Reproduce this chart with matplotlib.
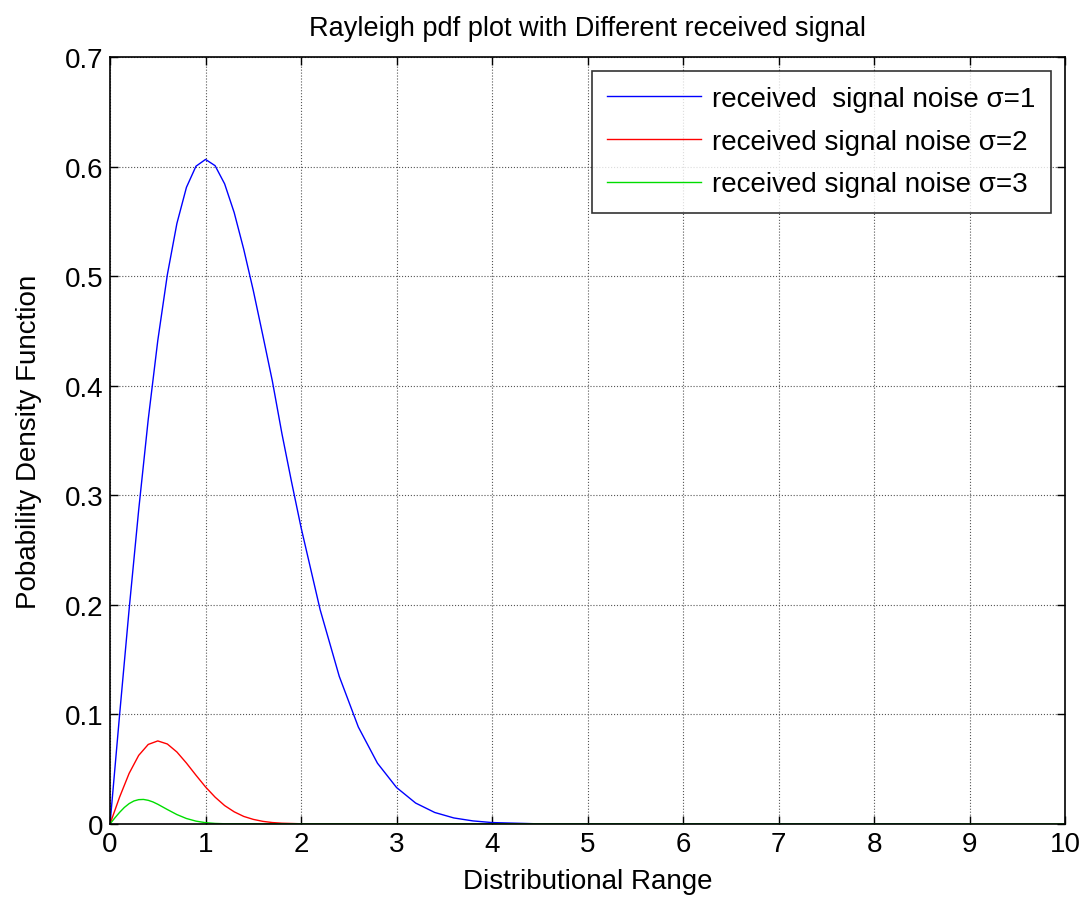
import matplotlib
matplotlib.use('Agg')
import matplotlib.pyplot as plt
import numpy as np

plt.rcParams['font.family'] = ['Liberation Sans', 'DejaVu Sans']

# values
x_s1 = [0, 0.1, 0.2, 0.3, 0.4, 0.5, 0.6, 0.7, 0.8, 0.9, 1.0, 1.1, 1.2, 1.3, 1.4, 1.5,
        1.6, 1.7, 1.8, 1.9, 2.0, 2.2, 2.4, 2.6, 2.8, 3.0, 3.2, 3.4, 3.6, 3.8, 4.0, 4.5, 8.9]
y_s1 = [0, 0.0995, 0.196, 0.2866, 0.3692, 0.4412, 0.5012, 0.5480, 0.5810, 0.6003, 0.6065,
        0.6008, 0.5842, 0.5580, 0.5245, 0.4869, 0.4459, 0.4041, 0.3562, 0.3125, 0.2707,
        0.1956, 0.1348, 0.0885, 0.0555, 0.0333, 0.0191, 0.0105, 0.0055, 0.0028, 0.0013,
        0.0001, 0.0]

x_s2 = [0, 0.1, 0.2, 0.3, 0.4, 0.5, 0.6, 0.7, 0.8, 0.9, 1.0, 1.1, 1.2, 1.3, 1.4, 1.5,
        1.6, 1.7, 1.8, 2.0, 4.3]
y_s2 = [0, 0.0245, 0.0462, 0.0626, 0.0726, 0.0758, 0.0730, 0.0657, 0.0556, 0.0445, 0.0338,
        0.0245, 0.0168, 0.0111, 0.0069, 0.0042, 0.0024, 0.0013, 0.0007, 0.0002, 0.0]

x_s3 = [0, 0.05, 0.1, 0.15, 0.2, 0.25, 0.3, 0.35, 0.4, 0.45, 0.5, 0.6, 0.7, 0.8, 0.9,
        1.0, 1.1, 1.2, 10.0]
y_s3 = [0, 0.0055, 0.0106, 0.0151, 0.0186, 0.0210, 0.0222, 0.0224, 0.0216, 0.0201, 0.0180,
        0.0132, 0.0086, 0.0050, 0.0026, 0.0012, 0.0005, 0.0002, 0.0]

labels = ['received  signal noise \u03c3=1', 'received signal noise \u03c3=2',
          'received signal noise \u03c3=3']

fig = plt.figure(figsize=(10.83, 9.03), dpi=100)
ax = fig.add_axes([0.1016, 0.0864, 0.8818, 0.8494])

ax.plot(x_s1, y_s1, color='#0000ff', lw=1, label=labels[0])
ax.plot(x_s2, y_s2, color='#ff0000', lw=1, label=labels[1])
ax.plot(x_s3, y_s3, color='#00dd00', lw=1, label=labels[2])

ax.set_xlim(0, 10)
ax.set_ylim(0, 0.7)
ax.set_xticks(np.arange(0, 11, 1))
ax.set_yticks(np.arange(0, 0.71, 0.1))
ax.set_yticklabels(['0', '0.1', '0.2', '0.3', '0.4', '0.5', '0.6', '0.7'])
ax.grid(True, color='#555555', linestyle=':', linewidth=0.8)
ax.tick_params(direction='in', top=True, right=True, labelsize=20, length=6, width=1, pad=5)
for s in ax.spines.values():
    s.set_linewidth(1.2)

ax.set_xlabel('Distributional Range', fontsize=20, labelpad=8)
ax.set_ylabel('Pobability Density Function', fontsize=20, labelpad=16)
ax.set_title('Rayleigh pdf plot with Different received signal', fontsize=19.5, pad=16)

leg = ax.legend(loc='upper right', fontsize=20, frameon=True, fancybox=False,
                edgecolor='black', handlelength=3.4, borderaxespad=0.5,
                labelspacing=0.6, handletextpad=0.4, borderpad=0.55)
leg.get_frame().set_linewidth(1.2)

plt.savefig('out.png', dpi=100)
